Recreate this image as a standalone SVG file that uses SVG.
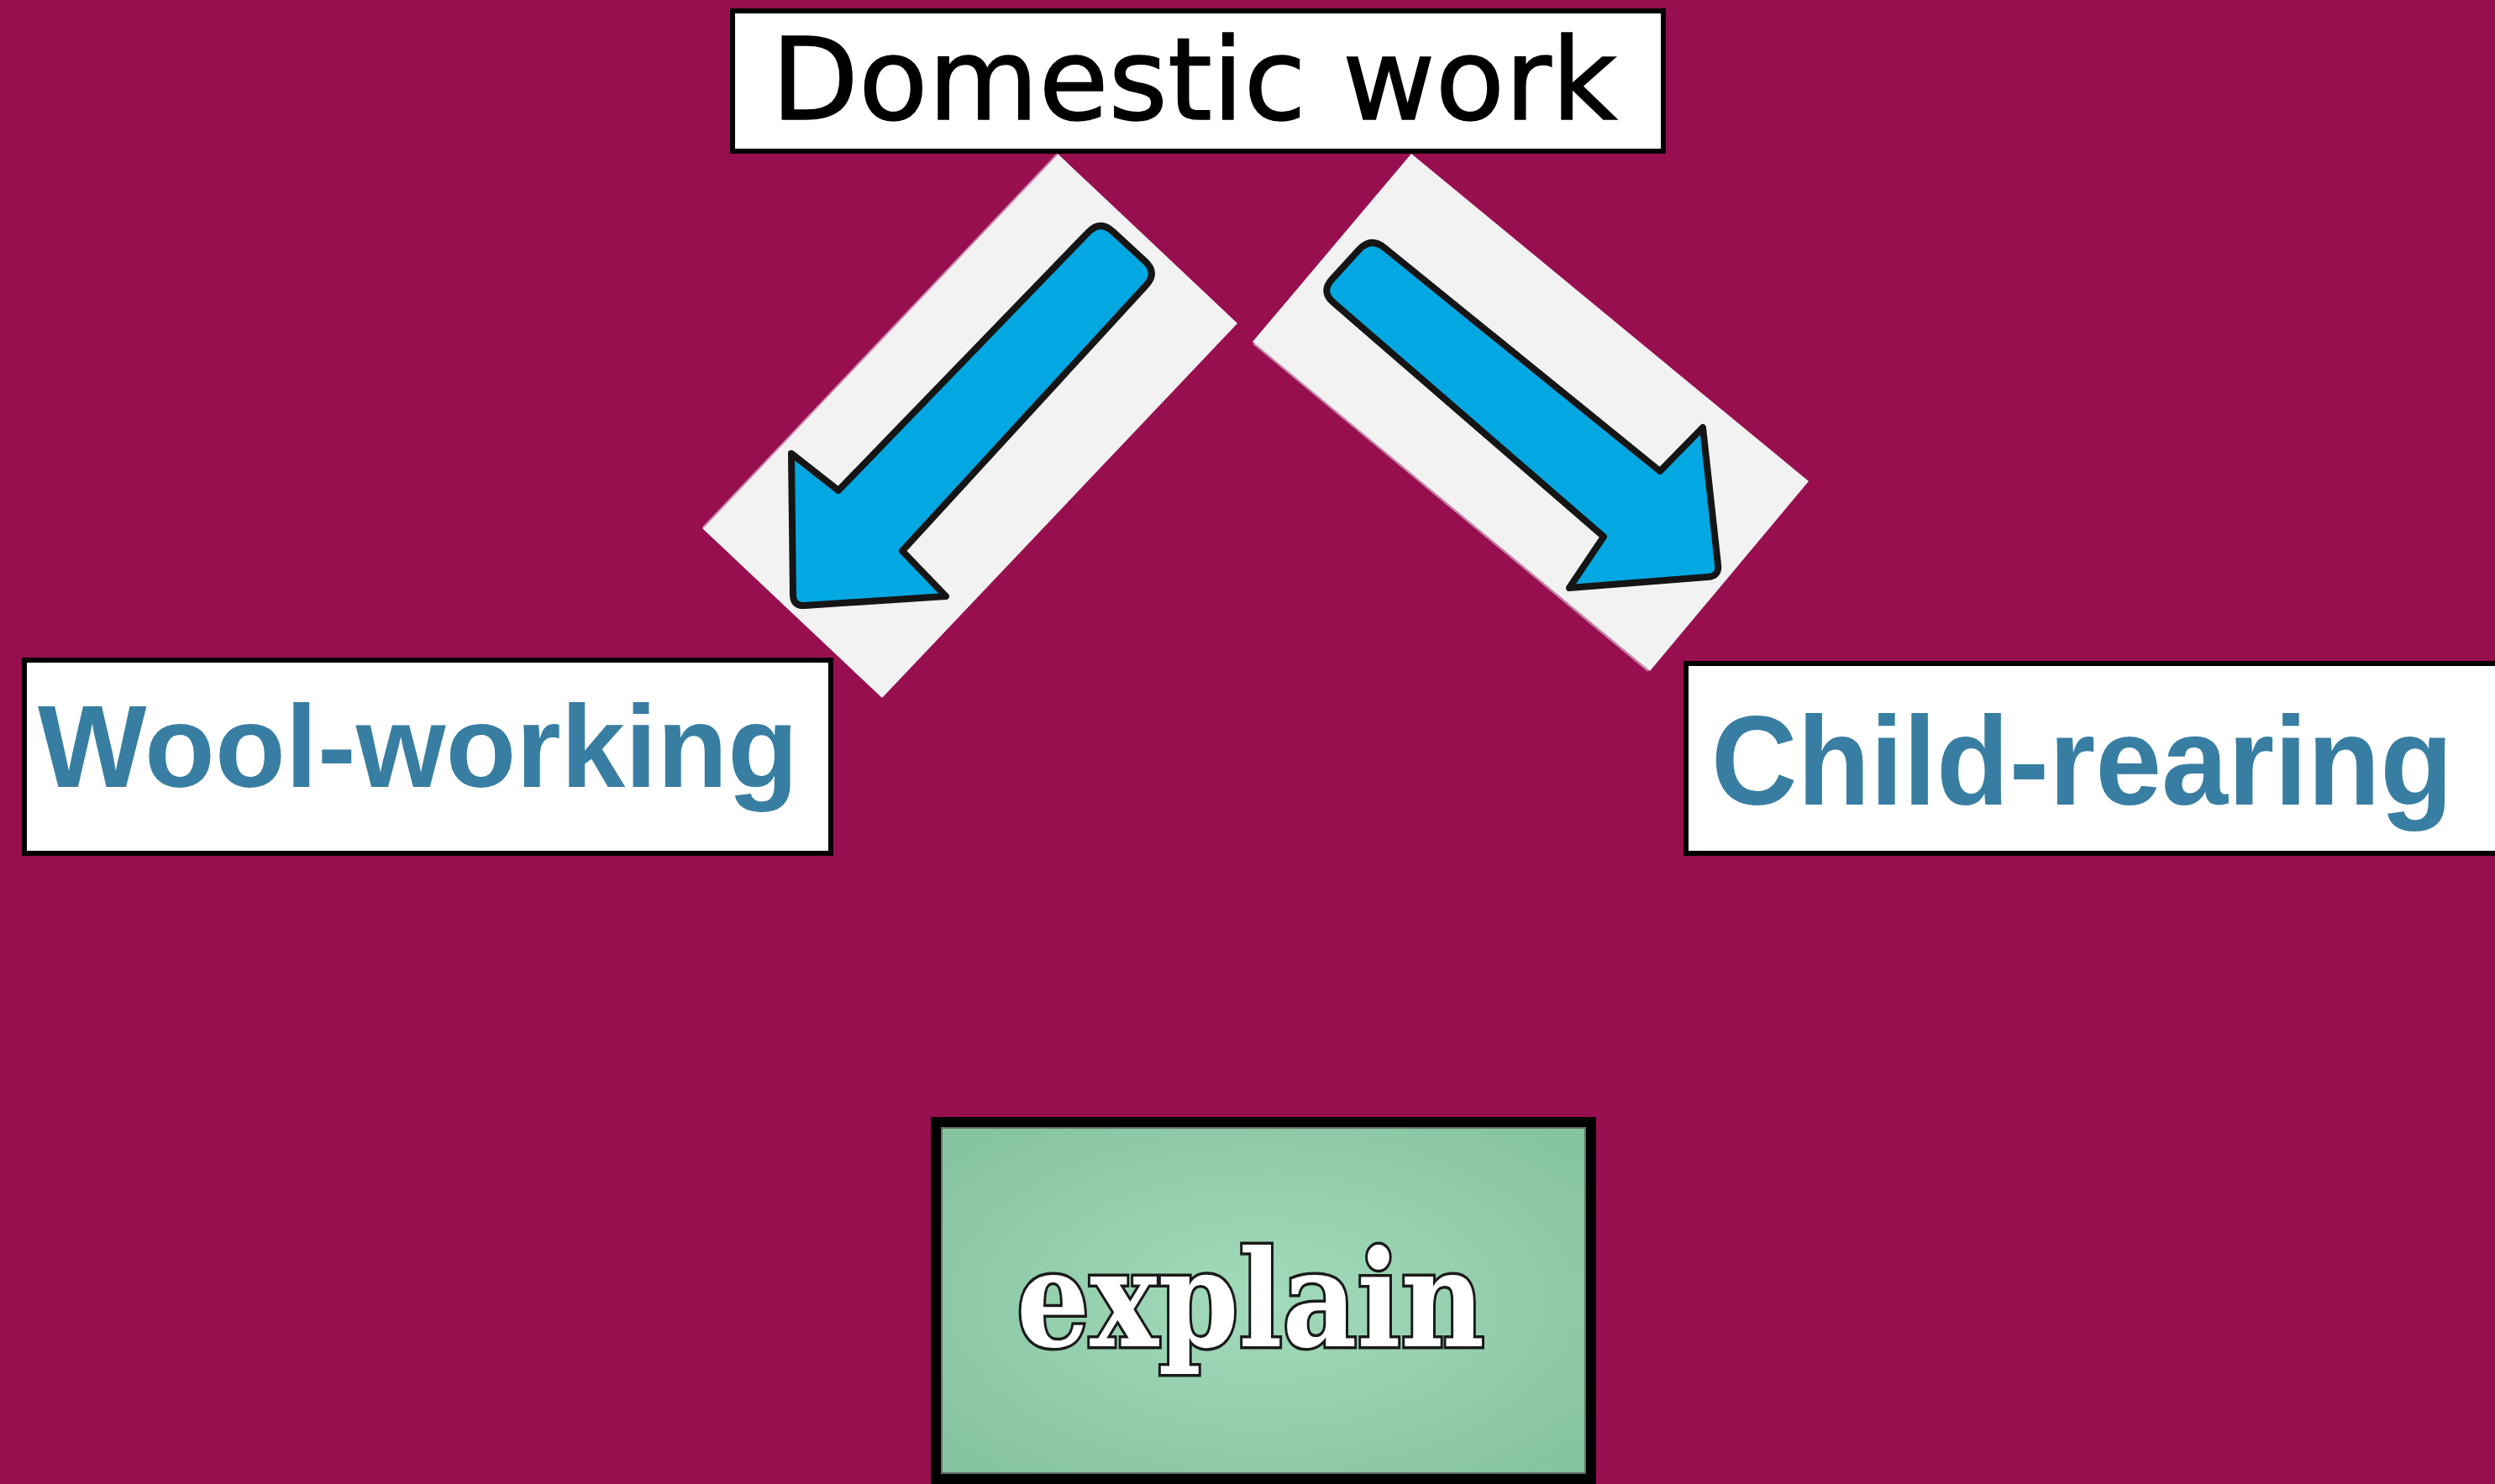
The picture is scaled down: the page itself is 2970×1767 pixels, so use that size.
<svg xmlns="http://www.w3.org/2000/svg" width="2970" height="1767" viewBox="0 0 2970 1767">
  <style>
    .box { fill: #ffffff; stroke: #000000; stroke-width: 6; }
    .label { font-family: "Liberation Sans", Arial, sans-serif; font-weight: bold; fill: #387EA2; }
    .pad { fill: #F2F2F2; }
    .edge { stroke: #C98AAE; stroke-width: 2; fill: none; }
    .arrow { fill: #03A8E2; stroke: #151515; stroke-width: 8; stroke-linejoin: round; }
  </style>
  <defs>
    <radialGradient id="green" cx="0.5" cy="0.5" r="0.65">
      <stop offset="0" stop-color="#A2DBBB"/>
      <stop offset="1" stop-color="#86C3A1"/>
    </radialGradient>
  </defs>
  <rect x="0" y="0" width="2970" height="1767" fill="#970F4F"/>

  <g id="connectors">
    <g id="arrow-left">
      <polygon class="pad" points="1259,183 1473,385 1050,831 836,629"/>
      <line class="edge" x1="1258" y1="184" x2="837" y2="628"/>
      <path class="arrow" d="M 1325,276 L 1363,311 Q 1378,325 1364,340 L 1074,656 L 1126,710 L 958,721 Q 944,722 944,708 L 942,540 L 998,584 L 1296,276 Q 1310,262 1325,276 Z"/>
    </g>
    <g id="arrow-right">
      <polygon class="pad" points="1680,183 2153,573 1964,799 1491,407"/>
      <line class="edge" x1="1492" y1="409" x2="1962" y2="799"/>
      <path class="arrow" d="M 1586,332 L 1618,297 Q 1632,282 1648,295 L 1976,561 L 2027,509 L 2045,672 Q 2047,686 2033,687 L 1868,700 L 1909,639 L 1587,360 Q 1572,347 1586,332 Z"/>
    </g>
  </g>

  <g id="node-domestic">
    <rect class="box" x="872" y="13" width="1108" height="167"/>
    <text x="918" y="142" font-family="DejaVu Sans, Verdana, sans-serif" font-size="135" fill="#000000" stroke="#000000" stroke-width="1.5" textLength="1007" lengthAdjust="spacingAndGlyphs">Domestic work</text>
  </g>

  <g id="node-wool">
    <rect class="box" x="29" y="786" width="960" height="230"/>
    <text class="label" x="45" y="937" font-size="140" textLength="905" lengthAdjust="spacingAndGlyphs">Wool-working</text>
  </g>

  <g id="node-child">
    <rect class="box" x="2007" y="790" width="1000" height="226"/>
    <text class="label" x="2037" y="958" font-size="150" textLength="883" lengthAdjust="spacingAndGlyphs">Child-rearing</text>
  </g>

  <g id="node-explain">
    <rect x="1114" y="1336" width="780" height="425" fill="url(#green)" stroke="#000000" stroke-width="12"/>
    <rect x="1121" y="1343" width="766" height="411" fill="none" stroke="#555555" stroke-width="1.5"/>
    <text x="1210" y="1603" font-family="DejaVu Serif, serif" font-weight="bold" font-size="160" fill="#ffffff" stroke="#1a1a1a" stroke-width="7" paint-order="stroke" textLength="557" lengthAdjust="spacingAndGlyphs">explain</text>
  </g>
</svg>
